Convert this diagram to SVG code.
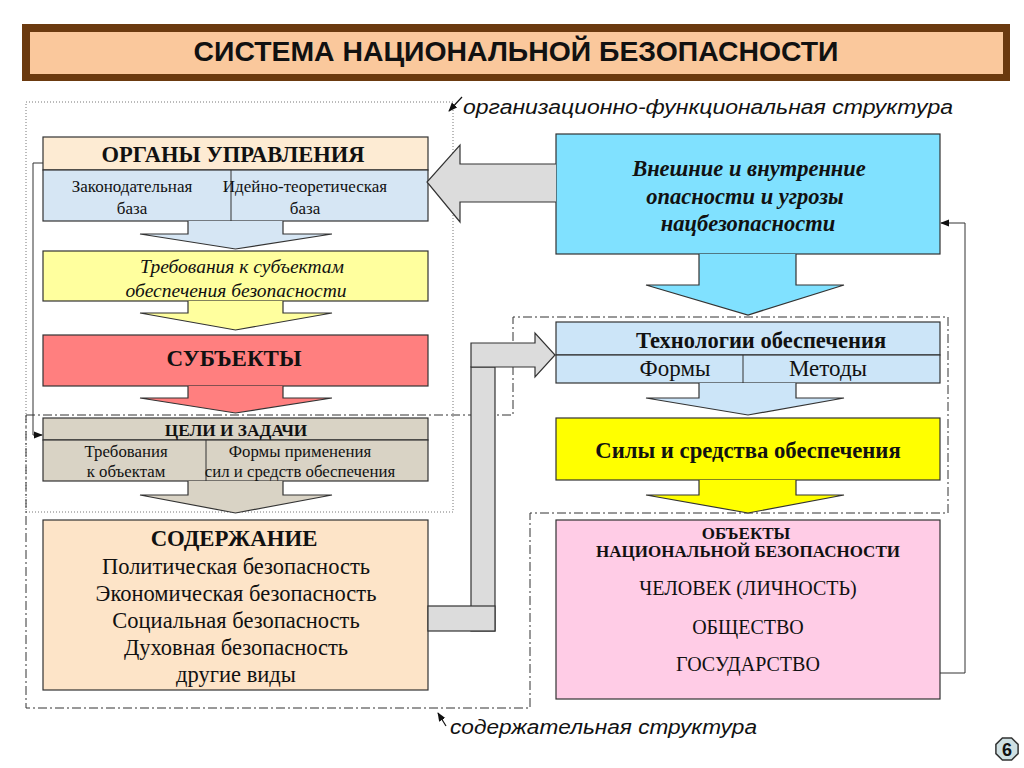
<svg xmlns="http://www.w3.org/2000/svg" width="1024" height="768" viewBox="0 0 1024 768">
<defs>
<style>
.box{stroke:#333;stroke-width:1.2}
.ln{fill:none;stroke:#333;stroke-width:1}
.serif{font-family:"Liberation Serif","Times New Roman",serif;fill:#111}
.sans{font-family:"Liberation Sans",Arial,sans-serif;fill:#111}
.b{font-weight:bold}
.i{font-style:italic}
.c{text-anchor:middle}
.arr{stroke:#333;stroke-width:1.2}
.dot{fill:none;stroke:#777;stroke-width:1;stroke-dasharray:1 2}
.dd{fill:none;stroke:#333;stroke-width:1;stroke-dasharray:9 3 2 3}
</style>
<marker id="ah" viewBox="0 0 10 10" refX="9" refY="5" markerWidth="9" markerHeight="9" markerUnits="userSpaceOnUse" orient="auto">
<path d="M0,1 L10,5 L0,9 Z" fill="#111"/>
</marker>
</defs>
<rect width="1024" height="768" fill="#fff"/>

<g id="title">
<rect x="22" y="24" width="988" height="57" fill="#6B3A0F"/>
<rect x="30" y="32" width="973" height="42" fill="#FAC89C"/>
<text x="516" y="61" class="sans b c" font-size="28" textLength="645" lengthAdjust="spacingAndGlyphs">СИСТЕМА НАЦИОНАЛЬНОЙ БЕЗОПАСНОСТИ</text>
</g>

<g id="regions">
<rect x="26" y="102" width="427" height="410" class="dot"/>
<path d="M26,415 H513 V317 H948 V513 H530 V708 H26 Z" class="dd"/>
</g>

<g id="label-org">
<text x="463" y="114" class="sans i" font-size="20" textLength="490" lengthAdjust="spacingAndGlyphs">организационно-функциональная  структура</text>
<line x1="462" y1="97" x2="449" y2="111" stroke="#111" stroke-width="1.2" marker-end="url(#ah)"/>
</g>

<g id="label-content">
<text x="450" y="734" class="sans i" font-size="20" textLength="307" lengthAdjust="spacingAndGlyphs">содержательная структура</text>
<line x1="446" y1="726" x2="438" y2="713" stroke="#111" stroke-width="1.2" marker-end="url(#ah)"/>
</g>

<g id="organy">
<rect x="43" y="137" width="385" height="33" fill="#FDEBD3" class="box"/>
<rect x="43" y="170" width="385" height="51" fill="#D6E6F4" class="box"/>
<line x1="231" y1="170" x2="231" y2="221" class="ln"/>
<text x="233" y="162" class="serif b c" font-size="22.5">ОРГАНЫ УПРАВЛЕНИЯ</text>
<text x="132" y="192" class="serif c" font-size="17">Законодательная</text>
<text x="132" y="214" class="serif c" font-size="17">база</text>
<text x="305" y="192" class="serif c" font-size="17">Идейно-теоретическая</text>
<text x="305" y="214" class="serif c" font-size="17">база</text>
</g>

<g id="trebovaniya">
<rect x="43" y="251" width="385" height="50" fill="#FFFF9E" class="box"/>
<text x="242" y="273" class="serif i c" font-size="19.5">Требования к субъектам</text>
<text x="236" y="297" class="serif i c" font-size="19.5">обеспечения безопасности</text>
</g>

<g id="subekty">
<rect x="43" y="335" width="385" height="51" fill="#FF7F7F" class="box"/>
<text x="234" y="366" class="serif b c" font-size="23">СУБЪЕКТЫ</text>
</g>

<g id="celi">
<rect x="43" y="418" width="385" height="22" fill="#D9D3C5" class="box"/>
<rect x="43" y="440" width="385" height="41" fill="#D9D3C5" class="box"/>
<line x1="206" y1="440" x2="206" y2="481" class="ln"/>
<text x="236" y="436" class="serif b c" font-size="17.3">ЦЕЛИ И ЗАДАЧИ</text>
<text x="126" y="457" class="serif c" font-size="16.8">Требования</text>
<text x="126" y="477" class="serif c" font-size="16.8">к объектам</text>
<text x="300" y="457" class="serif c" font-size="16.8">Формы применения</text>
<text x="300" y="477" class="serif c" font-size="16.8">сил и средств обеспечения</text>
</g>

<g id="soderzhanie">
<rect x="43" y="520" width="385" height="170" fill="#FDE4C8" class="box"/>
<text x="234" y="546" class="serif b c" font-size="22.8">СОДЕРЖАНИЕ</text>
<text x="236" y="574" class="serif c" font-size="22.5">Политическая безопасность</text>
<text x="236" y="601" class="serif c" font-size="22.5">Экономическая безопасность</text>
<text x="236" y="628" class="serif c" font-size="22.5">Социальная безопасность</text>
<text x="236" y="655" class="serif c" font-size="22.5">Духовная безопасность</text>
<text x="236" y="682" class="serif c" font-size="22.5">другие виды</text>
</g>

<g id="ugrozy">
<rect x="556" y="134" width="384" height="120" fill="#80E1FF" class="box"/>
<text x="749" y="176" class="serif b i c" font-size="22.5">Внешние и внутренние</text>
<text x="745" y="204" class="serif b i c" font-size="22.5">опасности и угрозы</text>
<text x="748" y="231" class="serif b i c" font-size="22.5">нацбезопасности</text>
</g>

<g id="tehnologii">
<rect x="556" y="322" width="384" height="33" fill="#CCE5F8" class="box"/>
<rect x="556" y="355" width="384" height="28" fill="#CCE5F8" class="box"/>
<line x1="743" y1="355" x2="743" y2="383" class="ln"/>
<text x="761" y="348" class="serif b c" font-size="22.5">Технологии обеспечения</text>
<text x="675" y="376" class="serif c" font-size="23">Формы</text>
<text x="828" y="376" class="serif c" font-size="23">Методы</text>
</g>

<g id="sily">
<rect x="556" y="418" width="384" height="62" fill="#FFFF00" class="box"/>
<text x="748" y="458" class="serif b c" font-size="22.7">Силы и средства обеспечения</text>
</g>

<g id="obekty">
<rect x="556" y="520" width="384" height="179" fill="#FFCCE6" class="box"/>
<text x="746" y="539" class="serif b c" font-size="17">ОБЪЕКТЫ</text>
<text x="748" y="557" class="serif b c" font-size="17">НАЦИОНАЛЬНОЙ БЕЗОПАСНОСТИ</text>
<text x="748" y="595" class="serif c" font-size="20">ЧЕЛОВЕК (ЛИЧНОСТЬ)</text>
<text x="748" y="634" class="serif c" font-size="20">ОБЩЕСТВО</text>
<text x="748" y="671" class="serif c" font-size="20">ГОСУДАРСТВО</text>
</g>

<g id="connectors">
<path d="M188,221 V234 H140 L235.5,249 L332,234 H283 V221" fill="#D6E6F4" class="arr"/>
<path d="M188,301 V313 H140 L235.5,330 L332,313 H283 V301" fill="#FFFF9E" class="arr"/>
<path d="M188,386 V398 H140 L235.5,413 L332,398 H283 V386" fill="#FF7F7F" class="arr"/>
<path d="M188,481 V495 H140 L235.5,513 L332,495 H283 V481" fill="#D9D3C5" class="arr"/>
<path d="M699,254 V285 H646 L748,315 L844,285 H796 V254" fill="#80E1FF" class="arr"/>
<path d="M699,383 V398 H646 L748,415 L844,398 H796 V383" fill="#CCE5F8" class="arr"/>
<path d="M699,480 V495 H646 L748,513 L844,495 H796 V480" fill="#FFFF00" class="arr"/>
<path d="M556,164 H460 V145 L427,182 L460,222 V202 H556" fill="#DCDCDC" class="arr"/>
<rect x="471" y="367" width="24" height="264" fill="#DCDCDC" class="arr"/>
<rect x="428" y="606" width="67" height="25" fill="#DCDCDC" class="arr"/>
<path d="M471,343 H535 V333 L555,355 L535,377 V367 H471 Z" fill="#DCDCDC" class="arr"/>
<path d="M43,163 H33 V435 H42" class="ln" marker-end="url(#ah)"/>
<path d="M940,673 H965 V223 H941" class="ln" marker-end="url(#ah)"/>
</g>

<g id="page-number">
<polygon points="1018.1,744.4 1018.1,753.6 1011.6,760.1 1002.4,760.1 995.9,753.6 995.9,744.4 1002.4,737.9 1011.6,737.9" fill="#CFE0E3" stroke="#333" stroke-width="1.5"/>
<text x="1007" y="756" class="sans b c" font-size="18">6</text>
</g>
</svg>
